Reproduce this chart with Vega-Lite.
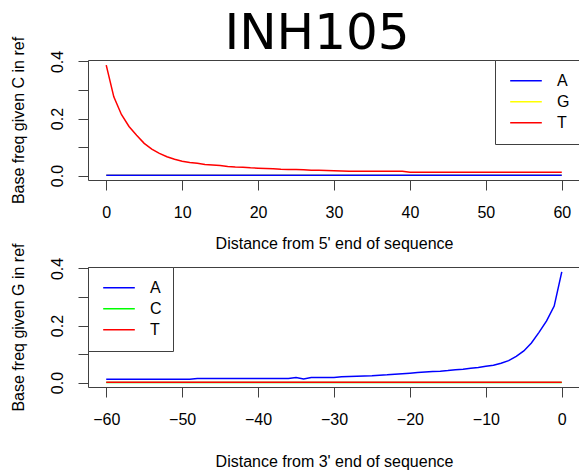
{
 "$schema": "https://vega.github.io/schema/vega-lite/v6.json",
 "padding": {"left": 9, "top": 8, "right": 0, "bottom": 0},
 "background": "white",
 "title": {"text": "INH105", "font": "DejaVu Sans", "fontSize": 50, "fontWeight": "normal", "color": "black", "anchor": "middle", "dx": -17, "offset": -63, "baseline": "alphabetic", "frame": "group"},
 "config": {
  "view": {"stroke": "#404040", "strokeWidth": 1},
  "axis": {"domain": false, "grid": false, "tickColor": "#404040", "tickSize": 10, "labelFont": "Liberation Sans", "labelFontSize": 16, "labelColor": "black", "titleFont": "Liberation Sans", "titleFontSize": 16, "titleFontWeight": "normal", "titleColor": "black", "labelOverlap": false, "labelFlush": false},
  "legend": {"strokeColor": "#404040", "fillColor": "white", "padding": 10.5, "offset": 0, "symbolType": "stroke", "symbolSize": 1000, "symbolStrokeWidth": 1.5, "clipHeight": 20.5, "rowPadding": 0, "symbolOffset": 3.5, "labelOffset": 14, "labelFont": "Liberation Sans", "labelFontSize": 16, "labelColor": "black", "cornerRadius": 0}
 },
 "datasets": {
  "top": [
   {"pos":0,"base":"G","freq":0.001},{"pos":1,"base":"G","freq":0.001},{"pos":2,"base":"G","freq":0.001},{"pos":3,"base":"G","freq":0.001},{"pos":4,"base":"G","freq":0.001},{"pos":5,"base":"G","freq":0.001},{"pos":6,"base":"G","freq":0.001},{"pos":7,"base":"G","freq":0.001},{"pos":8,"base":"G","freq":0.001},{"pos":9,"base":"G","freq":0.001},{"pos":10,"base":"G","freq":0.001},{"pos":11,"base":"G","freq":0.001},{"pos":12,"base":"G","freq":0.001},{"pos":13,"base":"G","freq":0.001},{"pos":14,"base":"G","freq":0.001},{"pos":15,"base":"G","freq":0.001},{"pos":16,"base":"G","freq":0.001},{"pos":17,"base":"G","freq":0.001},{"pos":18,"base":"G","freq":0.001},{"pos":19,"base":"G","freq":0.001},{"pos":20,"base":"G","freq":0.001},{"pos":21,"base":"G","freq":0.001},{"pos":22,"base":"G","freq":0.001},{"pos":23,"base":"G","freq":0.001},{"pos":24,"base":"G","freq":0.001},{"pos":25,"base":"G","freq":0.001},{"pos":26,"base":"G","freq":0.001},{"pos":27,"base":"G","freq":0.001},{"pos":28,"base":"G","freq":0.001},{"pos":29,"base":"G","freq":0.001},{"pos":30,"base":"G","freq":0.001},{"pos":31,"base":"G","freq":0.001},{"pos":32,"base":"G","freq":0.001},{"pos":33,"base":"G","freq":0.001},{"pos":34,"base":"G","freq":0.001},{"pos":35,"base":"G","freq":0.001},{"pos":36,"base":"G","freq":0.001},{"pos":37,"base":"G","freq":0.001},{"pos":38,"base":"G","freq":0.001},{"pos":39,"base":"G","freq":0.001},{"pos":40,"base":"G","freq":0.001},{"pos":41,"base":"G","freq":0.001},{"pos":42,"base":"G","freq":0.001},{"pos":43,"base":"G","freq":0.001},{"pos":44,"base":"G","freq":0.001},{"pos":45,"base":"G","freq":0.001},{"pos":46,"base":"G","freq":0.001},{"pos":47,"base":"G","freq":0.001},{"pos":48,"base":"G","freq":0.001},{"pos":49,"base":"G","freq":0.001},{"pos":50,"base":"G","freq":0.001},{"pos":51,"base":"G","freq":0.001},{"pos":52,"base":"G","freq":0.001},{"pos":53,"base":"G","freq":0.001},{"pos":54,"base":"G","freq":0.001},{"pos":55,"base":"G","freq":0.001},{"pos":56,"base":"G","freq":0.001},{"pos":57,"base":"G","freq":0.001},{"pos":58,"base":"G","freq":0.001},{"pos":59,"base":"G","freq":0.001},{"pos":60,"base":"G","freq":0.001},
   {"pos":0,"base":"A","freq":0.0015},{"pos":1,"base":"A","freq":0.0015},{"pos":2,"base":"A","freq":0.0015},{"pos":3,"base":"A","freq":0.0015},{"pos":4,"base":"A","freq":0.0015},{"pos":5,"base":"A","freq":0.0015},{"pos":6,"base":"A","freq":0.0015},{"pos":7,"base":"A","freq":0.0015},{"pos":8,"base":"A","freq":0.0015},{"pos":9,"base":"A","freq":0.0015},{"pos":10,"base":"A","freq":0.0015},{"pos":11,"base":"A","freq":0.0015},{"pos":12,"base":"A","freq":0.0015},{"pos":13,"base":"A","freq":0.0015},{"pos":14,"base":"A","freq":0.0015},{"pos":15,"base":"A","freq":0.0015},{"pos":16,"base":"A","freq":0.0015},{"pos":17,"base":"A","freq":0.0015},{"pos":18,"base":"A","freq":0.0015},{"pos":19,"base":"A","freq":0.0015},{"pos":20,"base":"A","freq":0.0015},{"pos":21,"base":"A","freq":0.0015},{"pos":22,"base":"A","freq":0.0015},{"pos":23,"base":"A","freq":0.0015},{"pos":24,"base":"A","freq":0.0015},{"pos":25,"base":"A","freq":0.0015},{"pos":26,"base":"A","freq":0.0015},{"pos":27,"base":"A","freq":0.0015},{"pos":28,"base":"A","freq":0.0015},{"pos":29,"base":"A","freq":0.0015},{"pos":30,"base":"A","freq":0.0015},{"pos":31,"base":"A","freq":0.0015},{"pos":32,"base":"A","freq":0.0015},{"pos":33,"base":"A","freq":0.0015},{"pos":34,"base":"A","freq":0.0015},{"pos":35,"base":"A","freq":0.0015},{"pos":36,"base":"A","freq":0.0015},{"pos":37,"base":"A","freq":0.0015},{"pos":38,"base":"A","freq":0.0015},{"pos":39,"base":"A","freq":0.0015},{"pos":40,"base":"A","freq":0.0015},{"pos":41,"base":"A","freq":0.0015},{"pos":42,"base":"A","freq":0.0015},{"pos":43,"base":"A","freq":0.0015},{"pos":44,"base":"A","freq":0.0015},{"pos":45,"base":"A","freq":0.0015},{"pos":46,"base":"A","freq":0.0015},{"pos":47,"base":"A","freq":0.0015},{"pos":48,"base":"A","freq":0.0015},{"pos":49,"base":"A","freq":0.0015},{"pos":50,"base":"A","freq":0.0015},{"pos":51,"base":"A","freq":0.0015},{"pos":52,"base":"A","freq":0.0015},{"pos":53,"base":"A","freq":0.0015},{"pos":54,"base":"A","freq":0.0015},{"pos":55,"base":"A","freq":0.0015},{"pos":56,"base":"A","freq":0.0015},{"pos":57,"base":"A","freq":0.0015},{"pos":58,"base":"A","freq":0.0015},{"pos":59,"base":"A","freq":0.0015},{"pos":60,"base":"A","freq":0.0015},
   {"pos":0,"base":"T","freq":0.387},{"pos":1,"base":"T","freq":0.276},{"pos":2,"base":"T","freq":0.214},{"pos":3,"base":"T","freq":0.172},{"pos":4,"base":"T","freq":0.141},{"pos":5,"base":"T","freq":0.113},{"pos":6,"base":"T","freq":0.093},{"pos":7,"base":"T","freq":0.078},{"pos":8,"base":"T","freq":0.066},{"pos":9,"base":"T","freq":0.057},{"pos":10,"base":"T","freq":0.05},{"pos":11,"base":"T","freq":0.046},{"pos":12,"base":"T","freq":0.043},{"pos":13,"base":"T","freq":0.039},{"pos":14,"base":"T","freq":0.037},{"pos":15,"base":"T","freq":0.035},{"pos":16,"base":"T","freq":0.032},{"pos":17,"base":"T","freq":0.03},{"pos":18,"base":"T","freq":0.029},{"pos":19,"base":"T","freq":0.027},{"pos":20,"base":"T","freq":0.026},{"pos":21,"base":"T","freq":0.025},{"pos":22,"base":"T","freq":0.024},{"pos":23,"base":"T","freq":0.022},{"pos":24,"base":"T","freq":0.021},{"pos":25,"base":"T","freq":0.021},{"pos":26,"base":"T","freq":0.02},{"pos":27,"base":"T","freq":0.019},{"pos":28,"base":"T","freq":0.019},{"pos":29,"base":"T","freq":0.018},{"pos":30,"base":"T","freq":0.017},{"pos":31,"base":"T","freq":0.016},{"pos":32,"base":"T","freq":0.015},{"pos":33,"base":"T","freq":0.015},{"pos":34,"base":"T","freq":0.015},{"pos":35,"base":"T","freq":0.015},{"pos":36,"base":"T","freq":0.015},{"pos":37,"base":"T","freq":0.015},{"pos":38,"base":"T","freq":0.015},{"pos":39,"base":"T","freq":0.015},{"pos":40,"base":"T","freq":0.012},{"pos":41,"base":"T","freq":0.012},{"pos":42,"base":"T","freq":0.012},{"pos":43,"base":"T","freq":0.012},{"pos":44,"base":"T","freq":0.012},{"pos":45,"base":"T","freq":0.012},{"pos":46,"base":"T","freq":0.012},{"pos":47,"base":"T","freq":0.012},{"pos":48,"base":"T","freq":0.012},{"pos":49,"base":"T","freq":0.012},{"pos":50,"base":"T","freq":0.012},{"pos":51,"base":"T","freq":0.012},{"pos":52,"base":"T","freq":0.012},{"pos":53,"base":"T","freq":0.012},{"pos":54,"base":"T","freq":0.012},{"pos":55,"base":"T","freq":0.012},{"pos":56,"base":"T","freq":0.012},{"pos":57,"base":"T","freq":0.012},{"pos":58,"base":"T","freq":0.012},{"pos":59,"base":"T","freq":0.012},{"pos":60,"base":"T","freq":0.012}
  ],
  "bottom": [
   {"pos":-60,"base":"C","freq":0.0005},{"pos":-59,"base":"C","freq":0.0005},{"pos":-58,"base":"C","freq":0.0005},{"pos":-57,"base":"C","freq":0.0005},{"pos":-56,"base":"C","freq":0.0005},{"pos":-55,"base":"C","freq":0.0005},{"pos":-54,"base":"C","freq":0.0005},{"pos":-53,"base":"C","freq":0.0005},{"pos":-52,"base":"C","freq":0.0005},{"pos":-51,"base":"C","freq":0.0005},{"pos":-50,"base":"C","freq":0.0005},{"pos":-49,"base":"C","freq":0.0005},{"pos":-48,"base":"C","freq":0.0005},{"pos":-47,"base":"C","freq":0.0005},{"pos":-46,"base":"C","freq":0.0005},{"pos":-45,"base":"C","freq":0.0005},{"pos":-44,"base":"C","freq":0.0005},{"pos":-43,"base":"C","freq":0.0005},{"pos":-42,"base":"C","freq":0.0005},{"pos":-41,"base":"C","freq":0.0005},{"pos":-40,"base":"C","freq":0.0005},{"pos":-39,"base":"C","freq":0.0005},{"pos":-38,"base":"C","freq":0.0005},{"pos":-37,"base":"C","freq":0.0005},{"pos":-36,"base":"C","freq":0.0005},{"pos":-35,"base":"C","freq":0.0005},{"pos":-34,"base":"C","freq":0.0005},{"pos":-33,"base":"C","freq":0.0005},{"pos":-32,"base":"C","freq":0.0005},{"pos":-31,"base":"C","freq":0.0005},{"pos":-30,"base":"C","freq":0.0005},{"pos":-29,"base":"C","freq":0.0005},{"pos":-28,"base":"C","freq":0.0005},{"pos":-27,"base":"C","freq":0.0005},{"pos":-26,"base":"C","freq":0.0005},{"pos":-25,"base":"C","freq":0.0005},{"pos":-24,"base":"C","freq":0.0005},{"pos":-23,"base":"C","freq":0.0005},{"pos":-22,"base":"C","freq":0.0005},{"pos":-21,"base":"C","freq":0.0005},{"pos":-20,"base":"C","freq":0.0005},{"pos":-19,"base":"C","freq":0.0005},{"pos":-18,"base":"C","freq":0.0005},{"pos":-17,"base":"C","freq":0.0005},{"pos":-16,"base":"C","freq":0.0005},{"pos":-15,"base":"C","freq":0.0005},{"pos":-14,"base":"C","freq":0.0005},{"pos":-13,"base":"C","freq":0.0005},{"pos":-12,"base":"C","freq":0.0005},{"pos":-11,"base":"C","freq":0.0005},{"pos":-10,"base":"C","freq":0.0005},{"pos":-9,"base":"C","freq":0.0005},{"pos":-8,"base":"C","freq":0.0005},{"pos":-7,"base":"C","freq":0.0005},{"pos":-6,"base":"C","freq":0.0005},{"pos":-5,"base":"C","freq":0.0005},{"pos":-4,"base":"C","freq":0.0005},{"pos":-3,"base":"C","freq":0.0005},{"pos":-2,"base":"C","freq":0.0005},{"pos":-1,"base":"C","freq":0.0005},{"pos":0,"base":"C","freq":0.0005},
   {"pos":-60,"base":"A","freq":0.012},{"pos":-59,"base":"A","freq":0.012},{"pos":-58,"base":"A","freq":0.012},{"pos":-57,"base":"A","freq":0.012},{"pos":-56,"base":"A","freq":0.012},{"pos":-55,"base":"A","freq":0.012},{"pos":-54,"base":"A","freq":0.012},{"pos":-53,"base":"A","freq":0.012},{"pos":-52,"base":"A","freq":0.012},{"pos":-51,"base":"A","freq":0.012},{"pos":-50,"base":"A","freq":0.012},{"pos":-49,"base":"A","freq":0.012},{"pos":-48,"base":"A","freq":0.014},{"pos":-47,"base":"A","freq":0.014},{"pos":-46,"base":"A","freq":0.014},{"pos":-45,"base":"A","freq":0.014},{"pos":-44,"base":"A","freq":0.014},{"pos":-43,"base":"A","freq":0.014},{"pos":-42,"base":"A","freq":0.014},{"pos":-41,"base":"A","freq":0.014},{"pos":-40,"base":"A","freq":0.014},{"pos":-39,"base":"A","freq":0.014},{"pos":-38,"base":"A","freq":0.014},{"pos":-37,"base":"A","freq":0.014},{"pos":-36,"base":"A","freq":0.014},{"pos":-35,"base":"A","freq":0.0175},{"pos":-34,"base":"A","freq":0.0125},{"pos":-33,"base":"A","freq":0.0175},{"pos":-32,"base":"A","freq":0.0175},{"pos":-31,"base":"A","freq":0.018},{"pos":-30,"base":"A","freq":0.018},{"pos":-29,"base":"A","freq":0.02},{"pos":-28,"base":"A","freq":0.021},{"pos":-27,"base":"A","freq":0.022},{"pos":-26,"base":"A","freq":0.023},{"pos":-25,"base":"A","freq":0.024},{"pos":-24,"base":"A","freq":0.026},{"pos":-23,"base":"A","freq":0.027},{"pos":-22,"base":"A","freq":0.029},{"pos":-21,"base":"A","freq":0.031},{"pos":-20,"base":"A","freq":0.033},{"pos":-19,"base":"A","freq":0.035},{"pos":-18,"base":"A","freq":0.037},{"pos":-17,"base":"A","freq":0.039},{"pos":-16,"base":"A","freq":0.04},{"pos":-15,"base":"A","freq":0.042},{"pos":-14,"base":"A","freq":0.045},{"pos":-13,"base":"A","freq":0.047},{"pos":-12,"base":"A","freq":0.05},{"pos":-11,"base":"A","freq":0.053},{"pos":-10,"base":"A","freq":0.057},{"pos":-9,"base":"A","freq":0.061},{"pos":-8,"base":"A","freq":0.068},{"pos":-7,"base":"A","freq":0.077},{"pos":-6,"base":"A","freq":0.092},{"pos":-5,"base":"A","freq":0.111},{"pos":-4,"base":"A","freq":0.139},{"pos":-3,"base":"A","freq":0.176},{"pos":-2,"base":"A","freq":0.216},{"pos":-1,"base":"A","freq":0.268},{"pos":0,"base":"A","freq":0.388},
   {"pos":-60,"base":"T","freq":0.001},{"pos":-59,"base":"T","freq":0.001},{"pos":-58,"base":"T","freq":0.001},{"pos":-57,"base":"T","freq":0.001},{"pos":-56,"base":"T","freq":0.001},{"pos":-55,"base":"T","freq":0.001},{"pos":-54,"base":"T","freq":0.001},{"pos":-53,"base":"T","freq":0.001},{"pos":-52,"base":"T","freq":0.001},{"pos":-51,"base":"T","freq":0.001},{"pos":-50,"base":"T","freq":0.001},{"pos":-49,"base":"T","freq":0.001},{"pos":-48,"base":"T","freq":0.001},{"pos":-47,"base":"T","freq":0.001},{"pos":-46,"base":"T","freq":0.001},{"pos":-45,"base":"T","freq":0.001},{"pos":-44,"base":"T","freq":0.001},{"pos":-43,"base":"T","freq":0.001},{"pos":-42,"base":"T","freq":0.001},{"pos":-41,"base":"T","freq":0.001},{"pos":-40,"base":"T","freq":0.001},{"pos":-39,"base":"T","freq":0.001},{"pos":-38,"base":"T","freq":0.001},{"pos":-37,"base":"T","freq":0.001},{"pos":-36,"base":"T","freq":0.001},{"pos":-35,"base":"T","freq":0.001},{"pos":-34,"base":"T","freq":0.001},{"pos":-33,"base":"T","freq":0.001},{"pos":-32,"base":"T","freq":0.001},{"pos":-31,"base":"T","freq":0.001},{"pos":-30,"base":"T","freq":0.001},{"pos":-29,"base":"T","freq":0.001},{"pos":-28,"base":"T","freq":0.001},{"pos":-27,"base":"T","freq":0.001},{"pos":-26,"base":"T","freq":0.001},{"pos":-25,"base":"T","freq":0.001},{"pos":-24,"base":"T","freq":0.001},{"pos":-23,"base":"T","freq":0.001},{"pos":-22,"base":"T","freq":0.001},{"pos":-21,"base":"T","freq":0.001},{"pos":-20,"base":"T","freq":0.001},{"pos":-19,"base":"T","freq":0.001},{"pos":-18,"base":"T","freq":0.001},{"pos":-17,"base":"T","freq":0.001},{"pos":-16,"base":"T","freq":0.001},{"pos":-15,"base":"T","freq":0.001},{"pos":-14,"base":"T","freq":0.001},{"pos":-13,"base":"T","freq":0.001},{"pos":-12,"base":"T","freq":0.001},{"pos":-11,"base":"T","freq":0.001},{"pos":-10,"base":"T","freq":0.001},{"pos":-9,"base":"T","freq":0.001},{"pos":-8,"base":"T","freq":0.001},{"pos":-7,"base":"T","freq":0.001},{"pos":-6,"base":"T","freq":0.001},{"pos":-5,"base":"T","freq":0.001},{"pos":-4,"base":"T","freq":0.001},{"pos":-3,"base":"T","freq":0.001},{"pos":-2,"base":"T","freq":0.001},{"pos":-1,"base":"T","freq":0.001},{"pos":0,"base":"T","freq":0.001}
  ]
 },
 "spacing": 87,
 "bounds": "flush",
 "resolve": {"scale": {"color": "independent"}, "legend": {"color": "independent"}},
 "vconcat": [
  {
   "width": 492, "height": 120,
   "data": {"name": "top"},
   "mark": {"type": "line", "strokeWidth": 1.5, "clip": true},
   "encoding": {
    "x": {"field": "pos", "type": "quantitative", "scale": {"domain": [-2.4, 62.4], "nice": false, "zero": false},
          "axis": {"values": [0,10,20,30,40,50,60], "format": "d", "labelPadding": 14, "title": "Distance from 5' end of sequence", "titleY": 68, "titleBaseline": "alphabetic", "titleAlign": "center"}},
    "y": {"field": "freq", "type": "quantitative", "scale": {"domain": [-0.0155, 0.405], "nice": false, "zero": false},
          "axis": {"values": [0,0.1,0.2,0.3,0.4], "labelExpr": "round(datum.value*10) % 2 == 0 ? format(datum.value, '.1f') : ''", "labelAngle": -90, "labelAlign": "center", "labelBaseline": "alphabetic", "labelPadding": 16, "title": "Base freq given C in ref", "titleAngle": -90, "titleX": -65, "titleY": 60, "titleAlign": "center", "titleBaseline": "alphabetic"}},
    "color": {"field": "base", "type": "nominal", "scale": {"domain": ["A","G","T"], "range": ["#0000FF","#FFFF00","#FF0000"]}, "legend": {"orient": "top-right", "title": null}}
   }
  },
  {
   "width": 492, "height": 120,
   "data": {"name": "bottom"},
   "mark": {"type": "line", "strokeWidth": 1.5, "clip": true},
   "encoding": {
    "x": {"field": "pos", "type": "quantitative", "scale": {"domain": [-62.4, 2.4], "nice": false, "zero": false},
          "axis": {"values": [-60,-50,-40,-30,-20,-10,0], "format": "d", "labelPadding": 14, "title": "Distance from 3' end of sequence", "titleY": 79, "titleBaseline": "alphabetic", "titleAlign": "center"}},
    "y": {"field": "freq", "type": "quantitative", "scale": {"domain": [-0.0155, 0.405], "nice": false, "zero": false},
          "axis": {"values": [0,0.1,0.2,0.3,0.4], "labelExpr": "round(datum.value*10) % 2 == 0 ? format(datum.value, '.1f') : ''", "labelAngle": -90, "labelAlign": "center", "labelBaseline": "alphabetic", "labelPadding": 16, "title": "Base freq given G in ref", "titleAngle": -90, "titleX": -65, "titleY": 60, "titleAlign": "center", "titleBaseline": "alphabetic"}},
    "color": {"field": "base", "type": "nominal", "scale": {"domain": ["A","C","T"], "range": ["#0000FF","#00FF00","#FF0000"]}, "legend": {"orient": "top-left", "title": null}}
   }
  }
 ]
}
